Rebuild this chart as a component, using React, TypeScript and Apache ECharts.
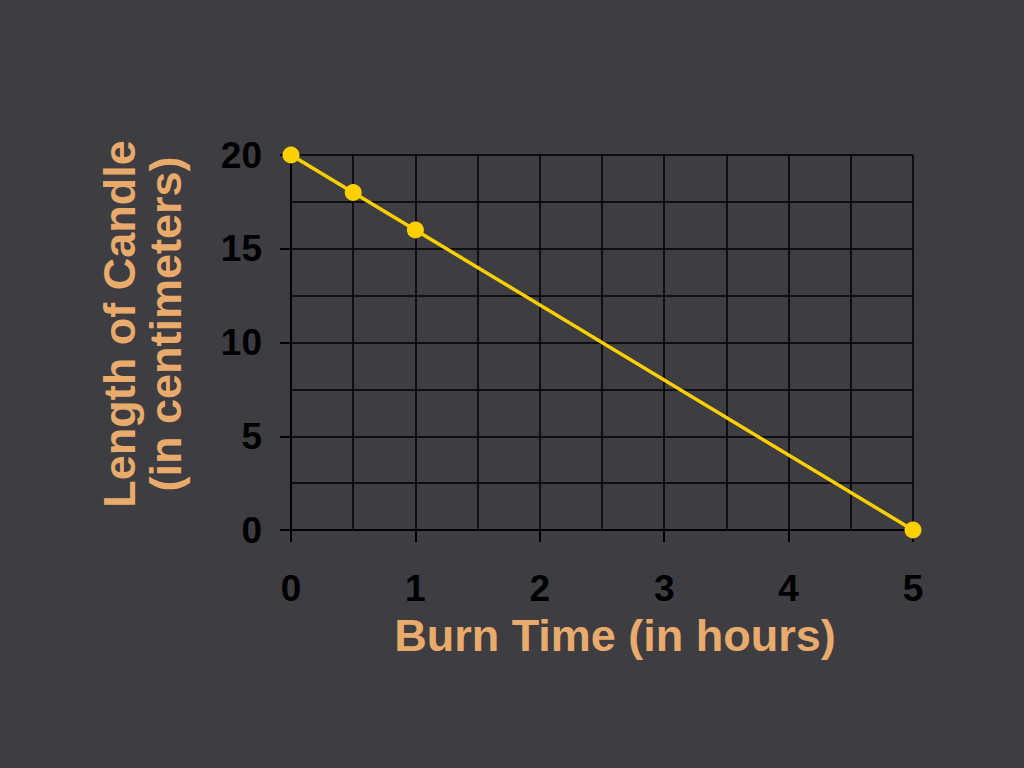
import React, { useEffect, useRef } from "react";
import * as echarts from "echarts";

const burnHours: number[] = [0, 0.5, 1, 5];
const candleLength: number[] = [20, 18, 16, 0];
const xTitle = "Burn Time (in hours)";
const yTitleLines: string[] = ["Length of Candle", "(in centimeters)"];

export default function App() {
  const ref = useRef<HTMLDivElement>(null);
  useEffect(() => {
    document.body.style.margin = "0";
    const chart = echarts.init(ref.current!, undefined, { renderer: "svg" });
    const points = burnHours.map((h, i) => [h, candleLength[i]]);
    const font = "'Liberation Sans', Arial, Helvetica, sans-serif";
    chart.setOption({
      animation: false,
      backgroundColor: "#3e3d42",
      grid: { left: 291, right: 111, top: 155, bottom: 238, containLabel: false },
      xAxis: {
        type: "value",
        min: 0,
        max: 5,
        interval: 1,
        axisLine: { show: true, onZero: false, lineStyle: { color: "#000", width: 2 } },
        axisTick: { show: true, length: 12, lineStyle: { color: "#000", width: 2 } },
        axisLabel: { color: "#000", fontSize: 37, fontWeight: "bold", fontFamily: font, margin: 40 },
        splitLine: { show: true, lineStyle: { color: "#000", width: 1.5 } },
        minorTick: { show: false, splitNumber: 2 },
        minorSplitLine: { show: true, lineStyle: { color: "#000", width: 1.5 } },
      },
      yAxis: {
        type: "value",
        min: 0,
        max: 20,
        interval: 5,
        axisLine: { show: true, onZero: false, lineStyle: { color: "#000", width: 2 } },
        axisTick: { show: true, length: 11, lineStyle: { color: "#000", width: 2 } },
        axisLabel: { color: "#000", fontSize: 37, fontWeight: "bold", fontFamily: font, margin: 29 },
        splitLine: { show: true, lineStyle: { color: "#000", width: 1.5 } },
        minorTick: { show: false, splitNumber: 2 },
        minorSplitLine: { show: true, lineStyle: { color: "#000", width: 1.5 } },
      },
      series: [
        {
          type: "line",
          data: points,
          clip: false,
          symbol: "circle",
          symbolSize: 17,
          lineStyle: { color: "#FFD000", width: 3.5 },
          itemStyle: { color: "#FFD000" },
        },
      ],
      graphic: [
        {
          type: "text",
          x: 615,
          y: 635,
          style: {
            text: xTitle,
            fill: "#E9AB6C",
            font: `bold 45px ${font}`,
            textAlign: "center",
            textVerticalAlign: "middle",
          },
        },
        {
          type: "text",
          x: 142,
          y: 324,
          rotation: Math.PI / 2,
          style: {
            text: yTitleLines.join("\n"),
            fill: "#E9AB6C",
            font: `bold 45px ${font}`,
            lineHeight: 46,
            textAlign: "center",
            textVerticalAlign: "middle",
          },
        },
      ],
    });
    return () => chart.dispose();
  }, []);
  return <div ref={ref} style={{ width: 1024, height: 768 }} />;
}
